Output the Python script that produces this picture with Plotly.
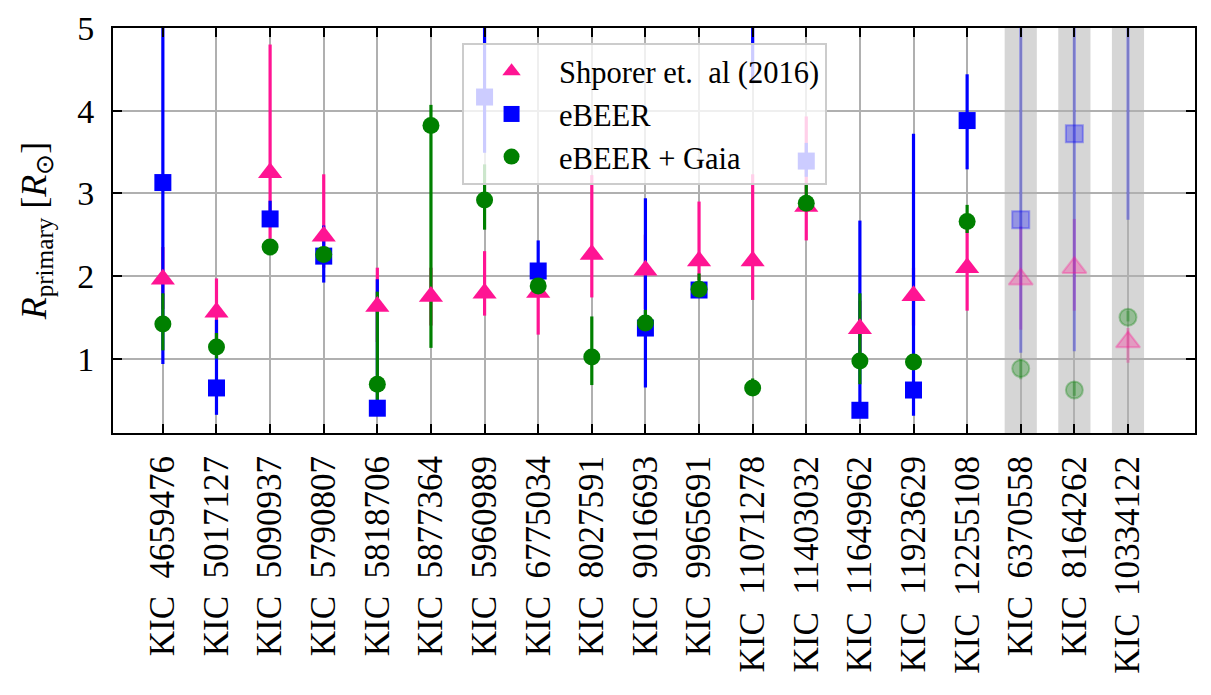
import plotly.graph_objects as go

# ---------------- data ----------------
kic_ids = ["4659476", "5017127", "5090937", "5790807", "5818706", "5877364",
           "5960989", "6775034", "8027591", "9016693", "9965691", "11071278",
           "11403032", "11649962", "11923629", "12255108", "6370558",
           "8164262", "10334122"]

# Shporer et. al (2016)
shporer_val = [1.96, 1.56, 3.25, 2.48, 1.63, 1.75, 1.79, 1.80, 2.26, 2.07,
               2.18, 2.18, 2.84, 1.36, 1.76, 2.10, 1.96, 2.10, 1.20]
shporer_lo = [1.60, 1.20, 2.45, 2.10, 1.20, 1.40, 1.52, 1.29, 1.74, 1.60,
              1.95, 1.71, 2.43, 1.00, 1.40, 1.58, 1.35, 1.58, 0.95]
shporer_hi = [2.35, 1.97, 4.80, 3.23, 2.10, 2.10, 2.30, 2.10, 3.22, 2.50,
              2.90, 3.23, 3.93, 1.70, 2.10, 2.60, 2.60, 2.69, 1.37]

# eBEER
ebeer_val = [3.13, 0.645, 2.69, 2.24, 0.40, None, 4.165, 2.06, None, 1.37,
             1.83, 5.60, 3.39, 0.375, 0.62, 3.88, 2.68, 3.72, 5.60]
ebeer_lo = [0.935, 0.32, 2.60, 1.92, 0.32, None, 3.49, 1.85, None, 0.65,
            1.78, 4.33, 3.20, 0.30, 0.31, 3.29, 1.07, 1.09, 2.68]
ebeer_hi = [5.60, 1.47, 2.91, 2.61, 1.96, None, 5.60, 2.43, None, 2.94,
            1.90, 6.50, 3.61, 2.67, 3.72, 4.44, 5.60, 5.60, 7.00]

# eBEER + Gaia
gaia_val = [1.42, 1.14, 2.35, 2.26, 0.69, 3.82, 2.92, 1.88, 1.02, 1.43,
            1.84, 0.645, 2.88, 0.97, 0.96, 2.66, 0.88, 0.62, 1.50]
gaia_lo = [1.10, 1.00, 2.28, 2.20, 0.50, 1.13, 2.56, 1.82, 0.68, 1.35,
           1.78, 0.60, 2.80, 0.69, 0.90, 2.52, 0.75, 0.55, 1.45]
gaia_hi = [1.79, 1.31, 2.42, 2.32, 1.81, 4.07, 3.35, 1.95, 1.51, 1.59,
           2.03, 0.76, 3.10, 1.79, 1.05, 2.86, 1.00, 0.72, 1.58]

# systems highlighted with a grey band (drawn faded)
uncertain_ids = ["6370558", "8164262", "10334122"]

y_ticks = [1, 2, 3, 4, 5]

# ---------------- styling ----------------
FONT = "Liberation Serif"
PINK, BLUE, GREEN = "#FF1493", "#0000FF", "#008000"

labels = ["KIC\u2002" + k for k in kic_ids]
main_idx = [i for i, k in enumerate(kic_ids) if k not in uncertain_ids]
faded_idx = [i for i, k in enumerate(kic_ids) if k in uncertain_ids]

series = [
    ("Shporer et.\u00a0 al (2016)", shporer_val, shporer_lo, shporer_hi, PINK, "triangle-up", 21),
    ("eBEER", ebeer_val, ebeer_lo, ebeer_hi, BLUE, "square", 17),
    ("eBEER + Gaia", gaia_val, gaia_lo, gaia_hi, GREEN, "circle", 17),
]


def rgba(hex_color, a):
    h = hex_color.lstrip("#")
    r, g, b = int(h[0:2], 16), int(h[2:4], 16), int(h[4:6], 16)
    return f"rgba({r},{g},{b},{a})"


def subset(arr, idx):
    return [arr[i] for i in idx]


def errs(val, lo, hi, idx):
    plus, minus = [], []
    for i in idx:
        if val[i] is None:
            plus.append(None)
            minus.append(None)
        else:
            plus.append(hi[i] - val[i])
            minus.append(val[i] - lo[i])
    return plus, minus


fig = go.Figure()

# grey bands behind the uncertain systems
for i in faded_idx:
    fig.add_shape(type="rect", xref="x", yref="paper", x0=i - 0.3, x1=i + 0.3,
                  y0=0, y1=1, fillcolor="#d6d6d6", line=dict(width=0), layer="below")

# error bars first (all series), then markers on top
for group, alpha in ((main_idx, 1.0), (faded_idx, 0.3)):
    for name, val, lo, hi, col, sym, size in series:
        plus, minus = errs(val, lo, hi, group)
        fig.add_trace(go.Scatter(
            x=subset(labels, group), y=subset(val, group), mode="markers", name=name,
            marker=dict(size=2, color="rgba(0,0,0,0)"),
            error_y=dict(type="data", symmetric=False, array=plus, arrayminus=minus,
                         color=rgba(col, alpha), thickness=3.2, width=0),
            showlegend=False, hoverinfo="skip"))

for name, val, lo, hi, col, sym, size in series:
    fig.add_trace(go.Scatter(
        x=subset(labels, main_idx), y=subset(val, main_idx), mode="markers", name=name,
        marker=dict(symbol=sym, size=size, color=col, line=dict(width=0))))

for name, val, lo, hi, col, sym, size in series:
    fig.add_trace(go.Scatter(
        x=subset(labels, faded_idx), y=subset(val, faded_idx), mode="markers", name=name,
        showlegend=False,
        marker=dict(symbol=sym, size=size, color=rgba(col, 0.3),
                    line=dict(width=2, color=rgba(col, 0.3)))))

axis_common = dict(
    showline=True, linecolor="black", linewidth=2, mirror="ticks",
    ticks="inside", ticklen=9, tickwidth=1.5, tickcolor="black",
    showgrid=True, gridcolor="#b0b0b0", gridwidth=1.5, zeroline=False,
    automargin=False,
)

# the page adds an 8px body margin, so the figure is 8px smaller with shifted margins
fig.update_layout(
    width=1203, height=687, autosize=False,
    margin=dict(l=105, r=16, t=20, b=262),
    paper_bgcolor="white", plot_bgcolor="white",
    font=dict(family=FONT, color="black"),
    xaxis=dict(type="category", categoryorder="array", categoryarray=labels,
               range=[-0.93, 19.25], tickangle=-90, ticklabelstandoff=7,
               tickfont=dict(family=FONT, size=35, color="black"), **axis_common),
    yaxis=dict(range=[0.1, 5], tickvals=y_ticks, ticklabelstandoff=10,
               tickfont=dict(family=FONT, size=34, color="black"),
               title=dict(text="<i>R</i><sub>primary</sub> [<i>R</i><sub>\u2299</sub>]",
                          font=dict(family=FONT, size=36, color="black"), standoff=20),
               **axis_common),
    legend=dict(x=0.3226, y=0.963, xanchor="left", yanchor="top",
                bgcolor="rgba(255,255,255,0.8)", bordercolor="#cccccc", borderwidth=2,
                font=dict(family=FONT, size=30.5, color="black"), itemwidth=85,
                tracegroupgap=0),
    showlegend=True,
)

fig.write_html("out.html")
